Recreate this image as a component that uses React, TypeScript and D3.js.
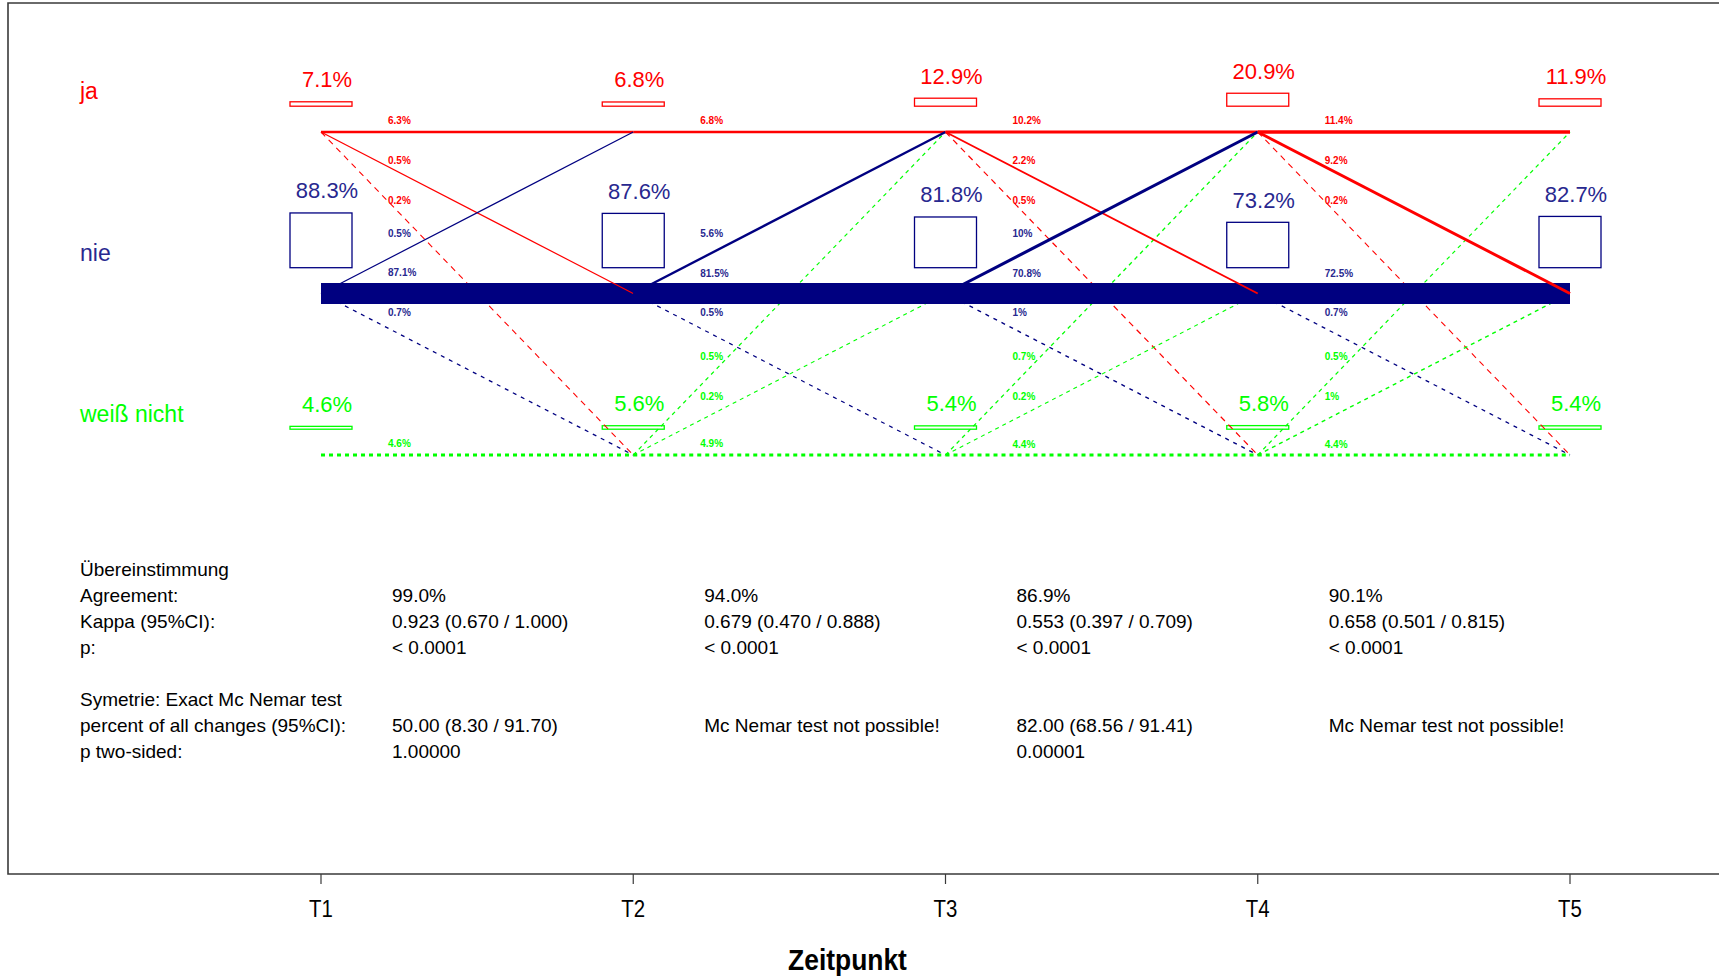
import React from "react";
import * as d3 from "d3";

// ---------- data ----------
const times = ["T1", "T2", "T3", "T4", "T5"];
const states = ["ja", "nie", "weiß nicht"];

// marginal percentages per time point
const pctJa = [7.1, 6.8, 12.9, 20.9, 11.9];
const pctNie = [88.3, 87.6, 81.8, 73.2, 82.7];
const pctWn = [4.6, 5.6, 5.4, 5.8, 5.4];

// transitions per interval (T1->T2 ... T4->T5), columns: to ja, to nie, to weiß nicht
const transFromJa = [
  [6.3, 0.5, 0.2],
  [6.8, 0, 0],
  [10.2, 2.2, 0.5],
  [11.4, 9.2, 0.2],
];
const transFromNie = [
  [0.5, 87.1, 0.7],
  [5.6, 81.5, 0.5],
  [10, 70.8, 1],
  [0, 72.5, 0.7],
];
const transFromWn = [
  [0, 0, 4.6],
  [0.5, 0.2, 4.9],
  [0.7, 0.2, 4.4],
  [0.5, 1, 4.4],
];

// statistics table
const tableLabels = [
  "Übereinstimmung",
  "Agreement:",
  "Kappa (95%CI):",
  "p:",
  "",
  "Symetrie: Exact Mc Nemar test",
  "percent of all changes (95%CI):",
  "p two-sided:",
];
const agreement = ["99.0%", "94.0%", "86.9%", "90.1%"];
const kappa = [
  "0.923 (0.670 / 1.000)",
  "0.679 (0.470 / 0.888)",
  "0.553 (0.397 / 0.709)",
  "0.658 (0.501 / 0.815)",
];
const kappaP = ["< 0.0001", "< 0.0001", "< 0.0001", "< 0.0001"];
const mcNemarPct = [
  "50.00 (8.30 / 91.70)",
  "Mc Nemar test not possible!",
  "82.00 (68.56 / 91.41)",
  "Mc Nemar test not possible!",
];
const mcNemarP = ["1.00000", "", "0.00001", ""];

const xLabel = "Zeitpunkt";

// ---------- styling / layout ----------
const W = 1719;
const H = 979;
const FONT = "'Liberation Sans', Arial, Helvetica, sans-serif";
const stateColors = ["#FF0000", "#000080", "#00FF00"];
const textColors = ["#FF0000", "#28288f", "#00FF00"];
const dashFor = ["6,5", "4,5", "4,4"];

export default function App() {
  const x = d3.scalePoint<string>().domain(times).range([321, 1570]);
  const y = d3.scalePoint<string>().domain(states).range([132, 455]);
  const boxH = d3.scaleLinear().domain([0, 100]).range([0, 62]);
  const lw = d3.scaleLinear().domain([0, 2, 12, 70, 90]).range([1, 1.8, 3.4, 20, 22]);

  const margins = [pctJa, pctNie, pctWn];
  const trans = [transFromJa, transFromNie, transFromWn];
  const lift = [11, 20.5, 19];

  type Seg = { i: number; f: number; t: number; v: number };
  const segs: Seg[] = [];
  for (let i = 0; i < times.length - 1; i++)
    for (let f = 0; f < 3; f++)
      for (let t = 0; t < 3; t++) {
        const v = trans[f][i][t];
        if (v > 0) segs.push({ i, f, t, v });
      }

  const order = (s: Seg) => {
    if (s.f === 2 && s.t === 2) return 5;
    if (s.f === 2 || s.t === 2) return 0;
    if (s.f === 1 && s.t === 1) return 1;
    if (s.f === 0 && s.t === 0) return 2;
    return 3;
  };
  const sorted = [...segs].sort((a, b) => order(a) - order(b));

  const labelY = (s: Seg) => {
    const yf = y(states[s.f])!;
    const yt = y(states[s.t])!;
    if (s.f === s.t) return yf - lw(s.v) / 2 - 10;
    return yf + 0.245 * (yt - yf) - lift[s.f];
  };

  const rowY = (r: number) => 576 + r * 25.95;

  return (
    <svg
      width={W}
      height={H}
      style={{ position: "absolute", left: 0, top: 0, display: "block", background: "#fff" }}
      fontFamily={FONT}
    >
      <rect x={0} y={0} width={W} height={H} fill="#ffffff" />
      {/* frame */}
      <path d={`M${W + 10},3 H8 V874 H${W + 10}`} fill="none" stroke="#3a3a3a" strokeWidth={1.6} />

      {/* boxes */}
      {states.map((s, si) =>
        times.map((t, ti) => {
          const h = boxH(margins[si][ti]);
          const bottom = y(s)! - 25.8;
          return (
            <rect
              key={`b-${si}-${ti}`}
              x={x(t)! - 31}
              y={bottom - h}
              width={62}
              height={h}
              fill="none"
              stroke={stateColors[si]}
              strokeWidth={1.3}
            />
          );
        })
      )}

      {/* transition lines */}
      {sorted.map((s, k) => {
        const x1 = x(times[s.i])!;
        const x2 = x(times[s.i + 1])!;
        const y1 = y(states[s.f])!;
        const y2 = y(states[s.t])!;
        let dash: string | undefined;
        let w = lw(s.v);
        const isBar = s.f === 1 && s.t === 1;
        if (s.f === 2 && s.t === 2) {
          dash = "4,4";
          w = 3;
        } else if (s.f === 2 || s.t === 2) {
          dash = dashFor[s.f];
        }
        return (
          <line
            key={`l-${k}`}
            x1={isBar ? Math.round(x1) : x1}
            y1={y1}
            x2={isBar ? Math.round(x2) : x2}
            y2={y2}
            stroke={stateColors[s.f]}
            strokeWidth={w}
            strokeDasharray={dash}
            strokeLinecap="butt"
            shapeRendering={isBar ? "crispEdges" : undefined}
          />
        );
      })}

      {/* transition labels */}
      {segs.map((s, k) => (
        <text
          key={`tl-${k}`}
          x={x(times[s.i])! + 67}
          y={labelY(s) + 3.6}
          fontSize={10}
          fontWeight="bold"
          fill={textColors[s.f]}
        >
          {`${s.v}%`}
        </text>
      ))}

      {/* marginal percentage labels */}
      {states.map((s, si) =>
        times.map((t, ti) => {
          const h = boxH(margins[si][ti]);
          const top = y(s)! - 25.8 - h;
          return (
            <text
              key={`p-${si}-${ti}`}
              x={x(t)! + 6}
              y={top - 14.5}
              fontSize={22}
              textAnchor="middle"
              fill={textColors[si]}
            >
              {`${margins[si][ti]}%`}
            </text>
          );
        })
      )}

      {/* state labels */}
      {states.map((s, si) => (
        <text key={`s-${si}`} x={80} y={y(s)! - 33} fontSize={23} fill={textColors[si]}>
          {s}
        </text>
      ))}

      {/* statistics table */}
      {tableLabels.map((lab, r) =>
        lab ? (
          <text key={`tb-${r}`} x={80} y={rowY(r)} fontSize={19} fill="#000">
            {lab}
          </text>
        ) : null
      )}
      {[
        { r: 1, vals: agreement },
        { r: 2, vals: kappa },
        { r: 3, vals: kappaP },
        { r: 6, vals: mcNemarPct },
        { r: 7, vals: mcNemarP },
      ].map(({ r, vals }) =>
        vals.map((v, i) =>
          v ? (
            <text key={`tv-${r}-${i}`} x={x(times[i])! + 71} y={rowY(r)} fontSize={19} fill="#000">
              {v}
            </text>
          ) : null
        )
      )}

      {/* x axis ticks */}
      {times.map((t) => (
        <g key={`tk-${t}`}>
          <line x1={x(t)!} x2={x(t)!} y1={874} y2={884} stroke="#3a3a3a" strokeWidth={1.2} />
          <text
            transform={`translate(${x(t)!},917) scale(0.85,1)`}
            fontSize={24}
            textAnchor="middle"
            fill="#000"
          >
            {t}
          </text>
        </g>
      ))}
      <text
        transform={`translate(${(x("T1")! + x("T5")!) / 2 - 98},970) scale(0.88,1)`}
        fontSize={30}
        fontWeight="bold"
        textAnchor="middle"
        fill="#000"
      >
        {xLabel}
      </text>
    </svg>
  );
}
